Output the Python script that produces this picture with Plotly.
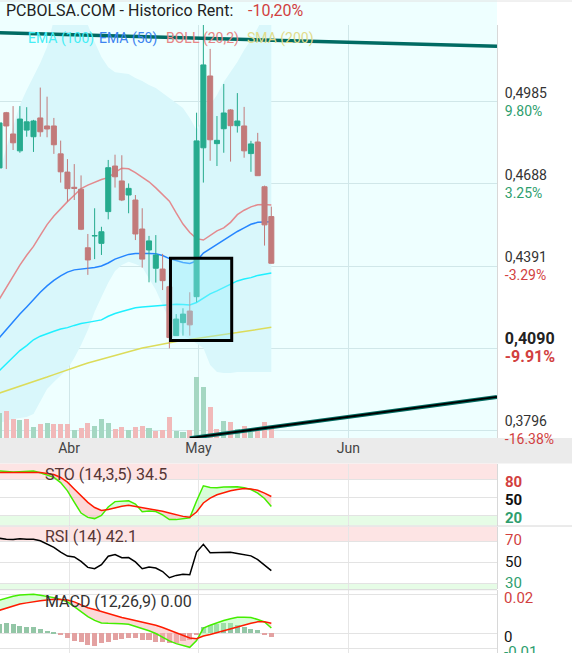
import plotly.graph_objects as go

# ---------------- data ----------------
x_idx = list(range(-1, 40))  # trading-session index

opens = [0.4746, 0.4946, 0.4869, 0.4808, 0.4883, 0.4859, 0.4927, 0.4898, 0.4898, 0.4797,
         0.4731, 0.4676, 0.4669, 0.4457, 0.4500, 0.4473, 0.4588, 0.4753, 0.4699, 0.4648,
         0.4630, 0.4525, 0.4449, 0.4383, 0.4380, 0.4316, 0.4139, 0.4186, 0.4228, 0.4280,
         0.4819, 0.5079, 0.4834, 0.4888, 0.4956, 0.4899, 0.4898, 0.4798, 0.4840, 0.4678, 0.4570]
highs = [0.4916, 0.4949, 0.4970, 0.4970, 0.4966, 0.4920, 0.5037, 0.5004, 0.4927, 0.4845,
         0.4778, 0.4760, 0.4719, 0.4507, 0.4600, 0.4533, 0.4775, 0.4794, 0.4792, 0.4690,
         0.4648, 0.4600, 0.4500, 0.4503, 0.4435, 0.4322, 0.4217, 0.4238, 0.4296, 0.4946,
         0.5292, 0.5177, 0.4934, 0.5050, 0.4959, 0.5017, 0.4967, 0.4844, 0.4873, 0.4682, 0.4606]
lows = [0.4739, 0.4742, 0.4811, 0.4801, 0.4859, 0.4804, 0.4859, 0.4857, 0.4797, 0.4693,
        0.4624, 0.4630, 0.4521, 0.4359, 0.4416, 0.4431, 0.4560, 0.4675, 0.4626, 0.4582,
        0.4485, 0.4385, 0.4332, 0.4331, 0.4304, 0.4093, 0.4138, 0.4139, 0.4139, 0.4260,
        0.4693, 0.4772, 0.4753, 0.4801, 0.4769, 0.4874, 0.4783, 0.4732, 0.4717, 0.4465, 0.4400]
closes = [0.4909, 0.4898, 0.4837, 0.4923, 0.4913, 0.4916, 0.4877, 0.4887, 0.4830, 0.4732,
          0.4671, 0.4672, 0.4524, 0.4413, 0.4501, 0.4515, 0.4747, 0.4714, 0.4630, 0.4672,
          0.4507, 0.4416, 0.4482, 0.4431, 0.4338, 0.4132, 0.4199, 0.4217, 0.4178, 0.4844,
          0.5119, 0.4848, 0.4846, 0.4945, 0.4899, 0.4916, 0.4808, 0.4833, 0.4718, 0.4540, 0.4401]
volume_k = [25, 27, 19, 18, 19, 11, 14, 15, 14, 14, 14, 8, 10, 15, 12, 19, 15, 9, 11, 8,
            11, 12, 10, 7, 8, 21, 7, 6, 8, 61, 51, 31, 9, 17, 16, 9, 12, 6, 7, 16, 12]

boll_upper = [0.4731, 0.4818, 0.4894, 0.4974, 0.5028, 0.5075, 0.5126, 0.5184, 0.5282, 0.5300,
              0.5311, 0.5311, 0.5300, 0.5264, 0.5202, 0.5148, 0.5111, 0.5092, 0.5090, 0.5086,
              0.5072, 0.5061, 0.5046, 0.5035, 0.5017, 0.4999, 0.4981, 0.4963, 0.4927, 0.4883,
              0.4927, 0.4974, 0.5010, 0.5057, 0.5093, 0.5130, 0.5173, 0.5209, 0.5253, 0.5300, 0.5336]
boll_mid = [0.4272, 0.4313, 0.4353, 0.4394, 0.4430, 0.4462, 0.4502, 0.4541, 0.4572, 0.4599,
            0.4624, 0.4647, 0.4671, 0.4684, 0.4694, 0.4704, 0.4711, 0.4730, 0.4745, 0.4743,
            0.4729, 0.4712, 0.4696, 0.4674, 0.4651, 0.4626, 0.4583, 0.4543, 0.4512, 0.4490,
            0.4485, 0.4500, 0.4518, 0.4529, 0.4549, 0.4577, 0.4593, 0.4605, 0.4613, 0.4614, 0.4612]
boll_lower = [0.3823, 0.3830, 0.3837, 0.3841, 0.3844, 0.3855, 0.3899, 0.3946, 0.3971, 0.3993,
              0.4018, 0.4058, 0.4105, 0.4159, 0.4225, 0.4279, 0.4330, 0.4373, 0.4395, 0.4406,
              0.4398, 0.4387, 0.4348, 0.4304, 0.4250, 0.4196, 0.4167, 0.4141, 0.4127, 0.4112,
              0.4094, 0.4033, 0.4007, 0.4004, 0.4004, 0.4007, 0.4007, 0.4007, 0.4007, 0.4007, 0.4007]
ema50 = [0.4132, 0.4161, 0.4190, 0.4217, 0.4243, 0.4270, 0.4296, 0.4319, 0.4339, 0.4355,
         0.4369, 0.4377, 0.4380, 0.4382, 0.4386, 0.4391, 0.4402, 0.4416, 0.4425, 0.4433,
         0.4436, 0.4437, 0.4436, 0.4435, 0.4429, 0.4418, 0.4411, 0.4404, 0.4400, 0.4409,
         0.4438, 0.4454, 0.4471, 0.4485, 0.4500, 0.4516, 0.4529, 0.4542, 0.4549, 0.4551, 0.4551]
ema100 = [0.4013, 0.4036, 0.4062, 0.4085, 0.4103, 0.4124, 0.4137, 0.4147, 0.4155, 0.4163,
          0.4168, 0.4176, 0.4183, 0.4187, 0.4191, 0.4196, 0.4209, 0.4219, 0.4226, 0.4234,
          0.4240, 0.4243, 0.4245, 0.4249, 0.4251, 0.4253, 0.4253, 0.4252, 0.4250, 0.4259,
          0.4275, 0.4290, 0.4301, 0.4313, 0.4326, 0.4337, 0.4344, 0.4349, 0.4357, 0.4362, 0.4366]
sma200 = [0.3931, 0.3939, 0.3947, 0.3955, 0.3963, 0.3971, 0.3980, 0.3989, 0.3998, 0.4007,
          0.4015, 0.4024, 0.4032, 0.4040, 0.4047, 0.4052, 0.4059, 0.4067, 0.4074, 0.4081,
          0.4088, 0.4094, 0.4099, 0.4104, 0.4109, 0.4114, 0.4118, 0.4121, 0.4125, 0.4129,
          0.4133, 0.4136, 0.4139, 0.4143, 0.4147, 0.4150, 0.4154, 0.4158, 0.4162, 0.4165, 0.4169]

sto_k = [93.8, 92.5, 92.0, 92.7, 93.3, 93.7, 90.8, 87.2, 83.3, 74.5, 60.8, 41.8, 23.7, 16.5,
         14.5, 19.7, 33.8, 42.8, 43.7, 44.2, 38.8, 26.0, 27.2, 26.3, 20.8, 12.8, 12.8, 14.2,
         16.0, 43.7, 69.2, 66.2, 65.8, 67.0, 67.7, 67.7, 65.8, 63.0, 56.8, 48.0, 34.5]
sto_d = [91.5, 91.7, 91.8, 91.7, 91.7, 91.8, 91.5, 89.8, 88.0, 83.0, 75.2, 63.8, 52.5, 41.5,
         33.0, 28.0, 29.5, 32.5, 35.2, 36.7, 34.8, 32.3, 30.2, 29.0, 26.7, 23.8, 20.7, 18.2,
         16.7, 25.5, 40.5, 48.5, 54.2, 58.2, 61.0, 63.0, 64.5, 63.7, 61.7, 57.0, 51.3]
rsi = [72.7, 71.7, 71.6, 72.3, 71.7, 71.7, 70.3, 67.3, 64.2, 59.6, 55.9, 55.1, 50.8, 45.2,
       43.9, 47.8, 55.8, 57.4, 54.3, 54.5, 50.4, 43.9, 45.6, 44.6, 41.3, 35.4, 37.6, 38.7,
       38.2, 59.7, 67.0, 59.1, 59.1, 59.6, 59.5, 58.4, 57.1, 56.1, 52.6, 47.4, 42.1]
macd = [0.0170, 0.0181, 0.0190, 0.0196, 0.0198, 0.0200, 0.0195, 0.0190, 0.0183, 0.0173,
        0.0161, 0.0137, 0.0112, 0.0086, 0.0066, 0.0053, 0.0051, 0.0051, 0.0049, 0.0046,
        0.0036, 0.0025, 0.0013, -0.0001, -0.0022, -0.0039, -0.0053, -0.0062, -0.0072, -0.0037,
        0.0027, 0.0041, 0.0054, 0.0066, 0.0075, 0.0082, 0.0082, 0.0081, 0.0071, 0.0058, 0.0027]
macd_signal = [0.0118, 0.0130, 0.0138, 0.0150, 0.0156, 0.0163, 0.0167, 0.0171, 0.0174, 0.0173,
               0.0171, 0.0161, 0.0144, 0.0131, 0.0122, 0.0112, 0.0100, 0.0089, 0.0081, 0.0073,
               0.0066, 0.0058, 0.0050, 0.0041, 0.0030, 0.0017, 0.0003, -0.0011, -0.0024, -0.0028,
               -0.0014, -0.0006, 0.0004, 0.0014, 0.0025, 0.0034, 0.0043, 0.0051, 0.0059, 0.0059, 0.0051]
macd_hist = [0.0048, 0.0051, 0.0048, 0.0039, 0.0034, 0.0031, 0.0022, 0.0012, 0.0003, -0.0009,
             -0.0026, -0.0039, -0.0046, -0.0060, -0.0065, -0.0051, -0.0043, -0.0034, -0.0031, -0.0026,
             -0.0026, -0.0034, -0.0034, -0.0043, -0.0043, -0.0051, -0.0048, -0.0039, -0.0034, -0.0005,
             0.0031, 0.0041, 0.0048, 0.0051, 0.0051, 0.0043, 0.0034, 0.0022, 0.0017, -0.0010, -0.0021]

month_ticks = [9.23, 28.26, 50.33]
month_labels = ["Abr", "May", "Jun"]
price_ticks = [0.4985, 0.4688, 0.4391, 0.4094, 0.3797]
price_labels = ["0,4985", "0,4688", "0,4391", "0,4090", "0,3796"]
pct_labels = ["9.80%", "3.25%", "-3.29%", "-9.91%", "-16.38%"]
last_price_tick = 3
sto_ticks, sto_labels = [80, 50, 20], ["80", "50", "20"]
rsi_ticks, rsi_labels = [70, 50, 30], ["70", "50", "30"]
macd_ticks, macd_labels = [0.02, 0, -0.0077], ["0.02", "0", "-0.01"]

# user drawings (index, price)
trend_top_x, trend_top_y = [-0.93, 72.21], [0.5235, 0.5187]
trend_bot_x, trend_bot_y = [27.0, 72.21], [0.3768, 0.3917]
box_x, box_y = [24.16, 33.17], [0.4121, 0.4419]

title_text = "PCBOLSA.COM - Historico"
rent_label, rent_value = "Rent:", "-10,20%"
sto_title, rsi_title, macd_title = "STO (14,3,5) 34.5", "RSI (14) 42.1", "MACD (12,26,9) 0.00"

# ---------------- layout helpers ----------------
W, H, PW = 572, 653, 497
def pyp(px):
    return 1 - px / H

UP, DN = "#26ab8e", "#c27a7a"
GREEN_T, RED_T = "#2e9e6e", "#d23f3f"
FONT = "Roboto"
PRICE_RANGE = [0.37684, 0.52635]

fig = go.Figure()

# Bollinger band area + moving averages (main price axis)
fig.add_trace(go.Scatter(x=x_idx, y=boll_upper, mode="lines", line=dict(width=0, color="rgba(0,0,0,0)"),
                         hoverinfo="skip", xaxis="x", yaxis="y"))
fig.add_trace(go.Scatter(x=x_idx, y=boll_lower, mode="lines", line=dict(width=0, color="rgba(0,0,0,0)"),
                         fill="tonexty", fillcolor="#d9f7fb", hoverinfo="skip", xaxis="x", yaxis="y"))
for series, col in [(sma200, "#dcdc5a"), (ema100, "#1ff0ff"), (ema50, "#2585ff"), (boll_mid, "#e38a8e")]:
    fig.add_trace(go.Scatter(x=x_idx, y=series, mode="lines", line=dict(color=col, width=1.5),
                             hoverinfo="skip", xaxis="x", yaxis="y"))
# volume (overlay axis y2)
vol_colors = ["#a4d7c2"] + ["#a4d7c2" if closes[i] >= closes[i - 1] else "#f1b9b9"
                            for i in range(1, len(closes))]
fig.add_trace(go.Bar(x=x_idx, y=volume_k, marker=dict(color=vol_colors, line=dict(width=0)),
                     width=0.74, xaxis="x", yaxis="y2", hoverinfo="skip"))
# candles (overlay axis y3, same scale as price so they sit above the lines)
fig.add_trace(go.Candlestick(x=x_idx, open=opens, high=highs, low=lows, close=closes,
                             increasing=dict(line=dict(color=UP, width=1), fillcolor=UP),
                             decreasing=dict(line=dict(color=DN, width=1), fillcolor=DN),
                             whiskerwidth=0, xaxis="x", yaxis="y3"))


def fill_runs(xs, a, b):
    runs, cur = [], None
    for i in range(len(xs)):
        d = a[i] - b[i]
        s = 1 if d >= 0 else -1
        if cur is None:
            cur = [s, [xs[i]], [a[i]], [b[i]]]
            continue
        if s != cur[0]:
            d0 = a[i - 1] - b[i - 1]
            t = d0 / (d0 - d) if d0 != d else 0
            xc = xs[i - 1] + t * (xs[i] - xs[i - 1])
            yc = a[i - 1] + t * (a[i] - a[i - 1])
            cur[1].append(xc); cur[2].append(yc); cur[3].append(yc)
            runs.append(cur)
            cur = [s, [xc, xs[i]], [yc, a[i]], [yc, b[i]]]
        else:
            cur[1].append(xs[i]); cur[2].append(a[i]); cur[3].append(b[i])
    runs.append(cur)
    out = {1: ([], []), -1: ([], [])}
    for s, rx, ra, rb in runs:
        out[s][0].extend(rx + rx[::-1] + [None])
        out[s][1].extend(ra + rb[::-1] + [None])
    return out


def add_cross_fill(a, b, xa, ya):
    parts = fill_runs(x_idx, a, b)
    for s, col in [(1, "rgba(170,250,170,0.45)"), (-1, "rgba(250,180,180,0.5)")]:
        fig.add_trace(go.Scatter(x=parts[s][0], y=parts[s][1], mode="lines", fill="toself",
                                 fillcolor=col, line=dict(width=0), hoverinfo="skip",
                                 xaxis=xa, yaxis=ya))


# STO
add_cross_fill(sto_k, sto_d, "x2", "y4")
fig.add_trace(go.Scatter(x=x_idx, y=sto_k, mode="lines", line=dict(color="#44ee00", width=1.5),
                         hoverinfo="skip", xaxis="x2", yaxis="y4"))
fig.add_trace(go.Scatter(x=x_idx, y=sto_d, mode="lines", line=dict(color="#ff1a00", width=1.5),
                         hoverinfo="skip", xaxis="x2", yaxis="y4"))
# RSI
fig.add_trace(go.Scatter(x=x_idx, y=rsi, mode="lines", line=dict(color="#000000", width=1.5),
                         hoverinfo="skip", xaxis="x3", yaxis="y5"))
# MACD
hist_colors = ["#93c6a6" if v >= 0 else "#e3a1a1" for v in macd_hist]
fig.add_trace(go.Bar(x=x_idx, y=macd_hist, marker=dict(color=hist_colors, line=dict(width=0)),
                     width=0.74, xaxis="x4", yaxis="y6", hoverinfo="skip"))
add_cross_fill(macd, macd_signal, "x4", "y6")
fig.add_trace(go.Scatter(x=x_idx, y=macd, mode="lines", line=dict(color="#44ee00", width=1.5),
                         hoverinfo="skip", xaxis="x4", yaxis="y6"))
fig.add_trace(go.Scatter(x=x_idx, y=macd_signal, mode="lines", line=dict(color="#ff1a00", width=1.5),
                         hoverinfo="skip", xaxis="x4", yaxis="y6"))

# ---------------- axes ----------------
x_range = [-0.927, 72.21]
price_text = []
for i, (v, p) in enumerate(zip(price_labels, pct_labels)):
    col = RED_T if p.startswith("-") else GREEN_T
    if i == last_price_tick:
        price_text.append(f"<b><span style='font-size:16px;color:#222'>{v}</span></b><br>"
                          f"<b><span style='font-size:16px;color:{col}'>{p}</span></b>")
    else:
        price_text.append(f"{v}<br><span style='color:{col}'>{p}</span>")


def colored(labels, bold):
    cols = [RED_T, "#111111", GREEN_T]
    out = []
    for lab, c in zip(labels, cols):
        t = f"<span style='color:{c}'>{lab}</span>"
        out.append(f"<b>{t}</b>" if bold else t)
    return out


base_x = dict(range=x_range, tickmode="array", tickvals=month_ticks, zeroline=False, ticks="",
              showline=False, fixedrange=True, automargin=False)
side_y = dict(side="right", tickmode="array", showgrid=True, gridcolor="#e3e3e3", zeroline=False,
              ticks="", showline=True, linecolor="#d8d8d8", tickfont=dict(size=15),
              ticklabelstandoff=4, fixedrange=True, automargin=False, ticklabeloverflow="allow")
fig.update_layout(
    width=W, height=H, autosize=False,
    margin=dict(l=0, r=W - PW, t=0, b=0, pad=0, autoexpand=False),
    paper_bgcolor="white", plot_bgcolor="rgba(0,0,0,0)", showlegend=False,
    font=dict(family=FONT, size=14, color="#333"),
    boxgap=0.26, boxgroupgap=0, bargap=0,
    xaxis=dict(base_x, domain=[0, 1], anchor="y", ticktext=month_labels, showgrid=True,
               gridcolor="#d0e7e9", tickfont=dict(size=14, color="#444"),
               rangeslider=dict(visible=False)),
    xaxis2=dict(base_x, domain=[0, 1], anchor="y4", matches="x", showticklabels=False,
                showgrid=True, gridcolor="#e6e6e6"),
    xaxis3=dict(base_x, domain=[0, 1], anchor="y5", matches="x", showticklabels=False,
                showgrid=True, gridcolor="#e6e6e6"),
    xaxis4=dict(base_x, domain=[0, 1], anchor="y6", matches="x", showticklabels=False,
                showgrid=True, gridcolor="#e6e6e6"),
    yaxis=dict(domain=[pyp(438), pyp(25)], range=PRICE_RANGE, side="right", anchor="x",
               tickmode="array", tickvals=price_ticks, ticktext=price_text, showgrid=True,
               gridcolor="#d0e7e9", zeroline=False, ticks="", showline=True, linecolor="#d8d8d8",
               tickfont=dict(size=14, color="#333"), ticklabelstandoff=4, fixedrange=True,
               automargin=False, ticklabeloverflow="allow"),
    yaxis2=dict(overlaying="y", range=[0, 413], visible=False, fixedrange=True, automargin=False),
    yaxis3=dict(overlaying="y", range=PRICE_RANGE, visible=False, fixedrange=True, automargin=False),
    yaxis4=dict(side_y, domain=[pyp(525.5), pyp(463.5)], range=[3.0, 106.3], anchor="x2",
                tickvals=sto_ticks, ticktext=colored(sto_labels, True), ticklabelshift=2),
    yaxis5=dict(side_y, domain=[pyp(589), pyp(526.5)], range=[24.75, 83.85], anchor="x3",
                tickvals=rsi_ticks, ticktext=colored(rsi_labels, False), ticklabelshift=-1),
    yaxis6=dict(side_y, domain=[0, pyp(590)], range=[-0.0101, 0.0222], anchor="x4",
                tickvals=macd_ticks, ticktext=colored(macd_labels, False), ticklabelstandoff=3,
                ticklabelshift=3),
)

# ---------------- shapes ----------------
shapes = [
    dict(type="rect", xref="paper", yref="paper", x0=0, x1=1, y0=pyp(438), y1=1,
         fillcolor="#eeffff", line=dict(width=0), layer="below"),
    dict(type="rect", xref="paper", yref="paper", x0=0, x1=W / PW, y0=pyp(463.5), y1=pyp(438),
         fillcolor="#ebebeb", line=dict(width=0), layer="below"),
    dict(type="line", xref="paper", yref="paper", x0=0, x1=W / PW, y0=pyp(1), y1=pyp(1),
         line=dict(color="#e2e2e2", width=1), layer="below"),
    dict(type="rect", xref="x2 domain", yref="y4", x0=0, x1=1, y0=80, y1=106.3,
         fillcolor="#fde4e4", line=dict(width=0), layer="below"),
    dict(type="rect", xref="x2 domain", yref="y4", x0=0, x1=1, y0=3.0, y1=20,
         fillcolor="#e6fce6", line=dict(width=0), layer="below"),
    dict(type="rect", xref="x3 domain", yref="y5", x0=0, x1=1, y0=70, y1=83.85,
         fillcolor="#fde4e4", line=dict(width=0), layer="below"),
    dict(type="rect", xref="x3 domain", yref="y5", x0=0, x1=1, y0=24.75, y1=30,
         fillcolor="#e6fce6", line=dict(width=0), layer="below"),
    dict(type="line", xref="paper", yref="paper", x0=0, x1=W / PW, y0=pyp(526), y1=pyp(526),
         line=dict(color="#d6d6d6", width=1)),
    dict(type="line", xref="paper", yref="paper", x0=0, x1=1, y0=pyp(589.7), y1=pyp(589.7),
         line=dict(color="#d6d6d6", width=1)),
    dict(type="rect", xref="x", yref="y", x0=box_x[0], x1=box_x[1], y0=box_y[0], y1=box_y[1],
         fillcolor="rgba(150,238,255,0.38)", line=dict(color="#000000", width=3), layer="above"),
    dict(type="line", xref="x", yref="y", x0=trend_top_x[0], x1=trend_top_x[1],
         y0=trend_top_y[0], y1=trend_top_y[1], line=dict(color="#006b63", width=3.5), layer="above"),
    dict(type="line", xref="x", yref="y", x0=trend_bot_x[0], x1=trend_bot_x[1],
         y0=trend_bot_y[0], y1=trend_bot_y[1], line=dict(color="#00695f", width=4), layer="above"),
    dict(type="line", xref="x", yref="y", x0=trend_bot_x[0], x1=trend_bot_x[1],
         y0=trend_bot_y[0], y1=trend_bot_y[1], line=dict(color="#000000", width=1.8), layer="above"),
]
fig.update_layout(shapes=shapes)

# ---------------- texts ----------------
ann = [
    dict(text=title_text, x=4 / PW, y=pyp(11), font=dict(size=16, color="#222")),
    dict(text=rent_label, x=195 / PW, y=pyp(11), font=dict(size=16, color="#222")),
    dict(text=rent_value, x=246 / PW, y=pyp(11), font=dict(size=16, color="#d23f3f")),
    dict(text="EMA (100)", x=26 / PW, y=pyp(39), font=dict(size=14, color="#45eef5")),
    dict(text="EMA (50)", x=97 / PW, y=pyp(39), font=dict(size=14, color="#3d84f0")),
    dict(text="BOLL (20,2)", x=164 / PW, y=pyp(39), font=dict(size=14, color="#e78686")),
    dict(text="SMA (200)", x=245 / PW, y=pyp(39), font=dict(size=14, color="#e2dc8c")),
    dict(text=sto_title, x=43 / PW, y=pyp(474.5), font=dict(size=16, color="#553535")),
    dict(text=rsi_title, x=43 / PW, y=pyp(536.5), font=dict(size=16, color="#553535")),
    dict(text=macd_title, x=43 / PW, y=pyp(601), font=dict(size=16, color="#333333")),
]
for a in ann:
    a.update(xref="paper", yref="paper", xanchor="left", yanchor="middle", showarrow=False)
    a["font"]["family"] = FONT
fig.update_layout(annotations=ann)

fig.write_html("out.html", config={"displayModeBar": False, "responsive": False},
               post_script="document.body.style.margin='0px';")
